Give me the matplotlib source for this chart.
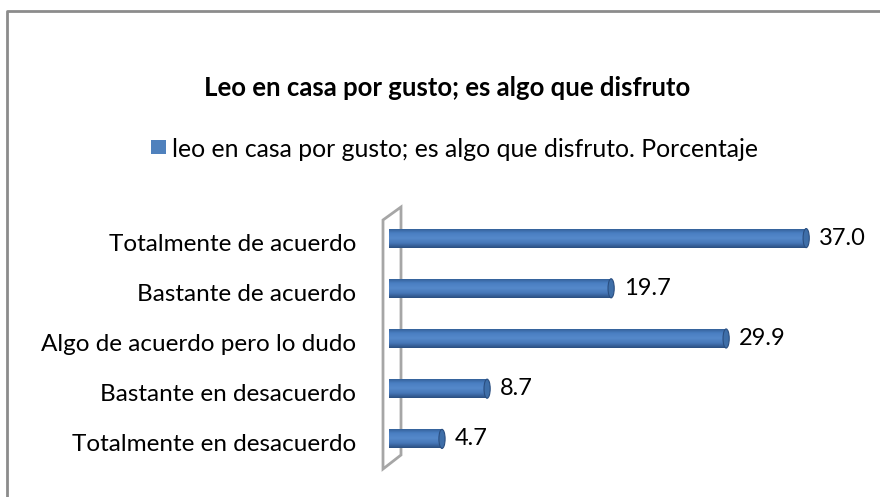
import numpy as np
import matplotlib
matplotlib.use("Agg")
from matplotlib import pyplot as plt
from matplotlib.patches import Polygon, Ellipse
from matplotlib.lines import Line2D
from matplotlib.colors import LinearSegmentedColormap

plt.rcParams['font.family'] = ['Lato', 'DejaVu Sans']

Categories = ["Totalmente de acuerdo", "Bastante de acuerdo", "Algo de acuerdo pero lo dudo",
              "Bastante en desacuerdo", "Totalmente en desacuerdo"]
Values = [37.0, 19.7, 29.9, 8.7, 4.7]
Title = "Leo en casa por gusto; es algo que disfruto"
SeriesName = "leo en casa por gusto; es algo que disfruto. Porcentaje"

W, H = 880, 497
fig = plt.figure(figsize=(W / 100, H / 100), dpi=100)

def fx(px):
    return px / W

def fy(py):
    return 1 - py / H

# frame (only top and left edge are visible in the crop)
fig.lines.append(Line2D([fx(7), fx(7), 1], [0, fy(11), fy(11)], transform=fig.transFigure,
                        color="#8c8c8c", linewidth=2))

ax = fig.add_axes([fx(389), fy(464), fx(451), 251 / H])
ax.set_xlim(0, 40)
ax.set_ylim(4.5, -0.5)
ax.axis("off")

# back wall of the 3d chart
wall = [(fx(383), fy(220)), (fx(401), fy(207)), (fx(401), fy(455)), (fx(383), fy(469))]
ax.add_patch(Polygon(wall, closed=True, transform=fig.transFigure, clip_on=False,
                     facecolor="white", edgecolor="#a6a6a6", linewidth=2, zorder=0))

cmap = LinearSegmentedColormap.from_list("cyl", ["#2f5a90", "#4a7fc2", "#5589ca", "#4677b8", "#2a4e80"])
grad = np.linspace(0, 1, 100).reshape(-1, 1)
bh = 0.38
bars = ax.barh(range(len(Values)), Values, height=bh, color="#4a7fc2", edgecolor="none", zorder=1)
for i, (b, v) in enumerate(zip(bars, Values)):
    im = ax.imshow(grad, extent=(0, v, i + bh / 2, i - bh / 2), aspect="auto", cmap=cmap,
                   origin="upper", zorder=2)
    im.set_clip_path(b)
    ax.add_patch(Ellipse((v, i), 0.55, bh, facecolor="#3e6ea8", edgecolor="#2a4e80",
                         linewidth=0.8, zorder=3))
    ax.annotate(f"{v:.1f}", (v, i), xytext=(9, 0), textcoords="offset points",
                va="center", ha="left", fontsize=17, color="black")
    ycat = ax.transData.transform((0, i))[1] / H - 6 / H
    fig.text(fx(356), ycat, Categories[i], ha="right", va="center", fontsize=17.5)

fig.text(fx(447), fy(88), Title, ha="center", va="center", fontsize=18.5, fontweight="bold")
fig.patches.append(plt.Rectangle((fx(151), fy(154)), fx(15), 14 / H, transform=fig.transFigure,
                                 facecolor="#4f81bd", edgecolor="none"))
fig.text(fx(172), fy(149), SeriesName, ha="left", va="center", fontsize=17.8)

fig.savefig("out.png", dpi=100)
